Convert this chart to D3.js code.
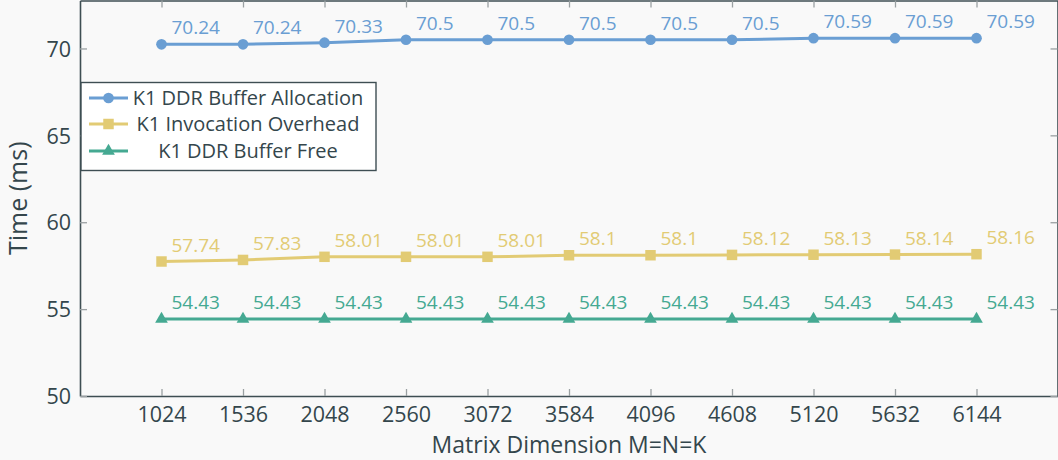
<!DOCTYPE html>
<html><head><meta charset="utf-8">
<script src="https://cdn.jsdelivr.net/npm/d3@7"></script>
<style>
html,body{margin:0;padding:0;background:#f9f9f9;}
svg{display:block;font-family:"Open Sans","Noto Sans",sans-serif;}
</style></head><body>
<svg id="c" width="1058" height="460"></svg>
<script>
const categories = [1024,1536,2048,2560,3072,3584,4096,4608,5120,5632,6144];
const allocation = [70.24,70.24,70.33,70.5,70.5,70.5,70.5,70.5,70.59,70.59,70.59];
const invocation = [57.74,57.83,58.01,58.01,58.01,58.1,58.1,58.12,58.13,58.14,58.16];
const freeBuf = [54.43,54.43,54.43,54.43,54.43,54.43,54.43,54.43,54.43,54.43,54.43];
const yTicks = [50,55,60,65,70];
const seriesNames = ["K1 DDR Buffer Allocation","K1 Invocation Overhead","K1 DDR Buffer Free"];

const colors = ["#6a9ed3","#e2cb74","#45a992"];
const textColor = "#34464c";
const svg = d3.select("#c");
const L=80, R=1058, T=0.5, B=396;
const x = d3.scaleLinear().domain([512,6656]).range([L,R]);
const y = d3.scaleLinear().domain([50,72.76]).range([B,T]);

svg.append("rect").attr("width",1058).attr("height",460).attr("fill","#f9f9f9");

// axes
const tickColor="#9aa0a2";
const gB = svg.append("g").attr("transform",`translate(0,${B})`).call(d3.axisBottom(x).tickValues(categories).tickSizeInner(-7).tickSizeOuter(0).tickPadding(11).tickFormat(d3.format("d")));
const gT = svg.append("g").attr("transform",`translate(0,${T})`).call(d3.axisTop(x).tickValues(categories).tickSizeInner(-7).tickSizeOuter(0).tickFormat(""));
const gL = svg.append("g").attr("transform",`translate(${L},0)`).call(d3.axisLeft(y).tickValues(yTicks).tickSizeInner(-7).tickSizeOuter(0).tickPadding(9));
const gR = svg.append("g").attr("transform",`translate(${R-0.5},0)`).call(d3.axisRight(y).tickValues(yTicks).tickSizeInner(-7).tickSizeOuter(0).tickFormat(""));
[gB,gT,gL,gR].forEach(g=>{
  g.select(".domain").attr("stroke","#3e4e53").attr("stroke-width",1.6);
  g.selectAll(".tick line").attr("stroke",tickColor).attr("stroke-width",1.3);
  g.selectAll(".tick text").attr("fill",textColor).attr("font-size",21.5).attr("font-family","'Open Sans',sans-serif");
});
gB.selectAll(".tick text").attr("dy","0.71em");
gL.selectAll(".tick text").attr("dy","0.36em");

// axis titles
svg.append("text").attr("x",(L+R)/2).attr("y",453).attr("text-anchor","middle")
  .attr("fill",textColor).attr("font-size",23).text("Matrix Dimension M=N=K");
svg.append("text").attr("transform",`translate(27,${(T+B)/2}) rotate(-90)`).attr("text-anchor","middle")
  .attr("fill",textColor).attr("font-size",25).text("Time (ms)");

const series = [allocation, invocation, freeBuf];
const shapes = [d3.symbolCircle, d3.symbolSquare, d3.symbolTriangle];
const sizes = [90, 110, 70];
const line = d3.line().x((d,i)=>x(categories[i])).y(d=>y(d));

series.forEach((vals,si)=>{
  const g = svg.append("g");
  g.append("path").datum(vals).attr("d",line).attr("fill","none").attr("stroke",colors[si]).attr("stroke-width",3);
  g.selectAll("path.m").data(vals).join("path").attr("class","m")
    .attr("transform",(d,i)=>`translate(${x(categories[i])},${y(d)})`)
    .attr("d",d3.symbol().type(shapes[si]).size(sizes[si])).attr("fill",colors[si]);
  g.selectAll("text").data(vals).join("text")
    .attr("x",(d,i)=>x(categories[i])+10).attr("y",d=>y(d)-10)
    .attr("fill",colors[si]).attr("font-size",19).text(d=>d);
});

// legend
const lg = svg.append("g");
lg.append("rect").attr("x",81).attr("y",82.5).attr("width",295).attr("height",88)
  .attr("fill","#ffffff").attr("stroke","#3e4e53").attr("stroke-width",1.4);
const rowY=[98,124,151];
seriesNames.forEach((name,i)=>{
  lg.append("line").attr("x1",89).attr("x2",128).attr("y1",rowY[i]).attr("y2",rowY[i]).attr("stroke",colors[i]).attr("stroke-width",3);
  lg.append("path").attr("transform",`translate(108.5,${rowY[i]})`).attr("d",d3.symbol().type(shapes[i]).size(sizes[i])).attr("fill",colors[i]);
  lg.append("text").attr("x",248).attr("y",rowY[i]).attr("dy","0.35em").attr("text-anchor","middle")
    .attr("fill",textColor).attr("font-size",20).text(name);
});
</script>
</body></html>
